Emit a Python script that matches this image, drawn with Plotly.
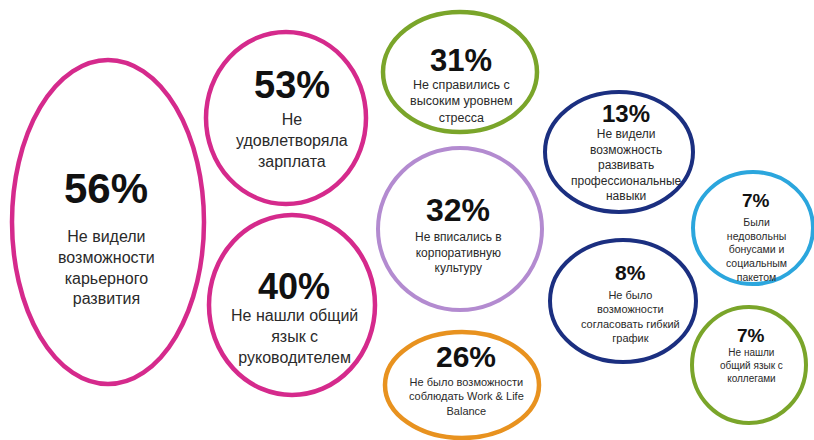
import plotly.graph_objects as go

# ---- data ----
percents = [56, 53, 40, 31, 32, 26, 13, 8, 7, 7]
labels = [
    "Не видели<br>возможности<br>карьерного<br>развития",
    "Не<br>удовлетворяла<br>зарплата",
    "Не нашли общий<br>язык с<br>руководителем",
    "Не справились с<br>высоким уровнем<br>стресса",
    "Не вписались в<br>корпоративную<br>культуру",
    "Не было возможности<br>соблюдать Work & Life<br>Balance",
    "Не видели<br>возможность<br>развивать<br>профессиональные<br>навыки",
    "Не было<br>возможности<br>согласовать гибкий<br>график",
    "Были<br>недовольны<br>бонусами и<br>социальным<br>пакетом",
    "Не нашли<br>общий язык с<br>коллегами",
]

# ---- layout (bubble placement / styling) ----
cx = [108, 286, 292, 460, 460, 462, 619, 623, 753, 749]
cy = [222, 118, 305, 72, 229, 385, 152, 301, 228, 365]
rx = [96, 80, 83, 77, 82, 77, 74, 73, 60, 57]
ry = [162, 86, 90, 60, 81, 53, 60, 61, 56, 58]
text_x = [106, 292, 294, 461, 458, 466, 626, 630, 756, 751]
pct_y = [188, 85, 286, 60, 210, 356, 113, 272, 200, 335]
lbl_y = [267, 140, 336, 101, 252, 396, 165, 316, 249, 365]
pct_size = [42, 38, 36, 31, 32, 30, 24, 21, 19, 19]
lbl_size = [16, 16, 16, 12.5, 12, 11, 12, 11, 10.5, 10]
colors = ["#D52A8C", "#D52A8C", "#D52A8C", "#7AA52A", "#B38BD0",
          "#E8921F", "#1B2F80", "#1B2F80", "#2BA6DD", "#7AA52A"]
widths = [4.5, 4.5, 4.5, 4.5, 4, 4.5, 4, 4, 4, 4]

fig = go.Figure()
fig.add_trace(go.Scatter(x=[0, 814], y=[0, 440], mode="markers",
                         marker=dict(opacity=0), hoverinfo="skip", showlegend=False))

for i in range(len(percents)):
    fig.add_shape(type="circle", xref="x", yref="y",
                  x0=cx[i] - rx[i], x1=cx[i] + rx[i],
                  y0=cy[i] - ry[i], y1=cy[i] + ry[i],
                  line=dict(color=colors[i], width=widths[i]),
                  fillcolor="white", layer="below")
    fig.add_annotation(x=text_x[i], y=pct_y[i], xref="x", yref="y",
                       text=f"<b>{percents[i]}%</b>", showarrow=False,
                       xanchor="center", yanchor="middle",
                       font=dict(family="Liberation Sans, Arial", size=pct_size[i], color="#111111"))
    fig.add_annotation(x=text_x[i], y=lbl_y[i], xref="x", yref="y",
                       text=labels[i], showarrow=False, align="center",
                       xanchor="center", yanchor="middle",
                       font=dict(family="Liberation Sans, Arial", size=lbl_size[i], color="#2a2a2a"))

fig.update_xaxes(range=[0, 814], visible=False, fixedrange=True)
fig.update_yaxes(range=[440, 0], visible=False, fixedrange=True)
fig.update_layout(width=814, height=440, margin=dict(l=0, r=0, t=0, b=0),
                  plot_bgcolor="white", paper_bgcolor="white", showlegend=False)

fig.write_html("out.html")
